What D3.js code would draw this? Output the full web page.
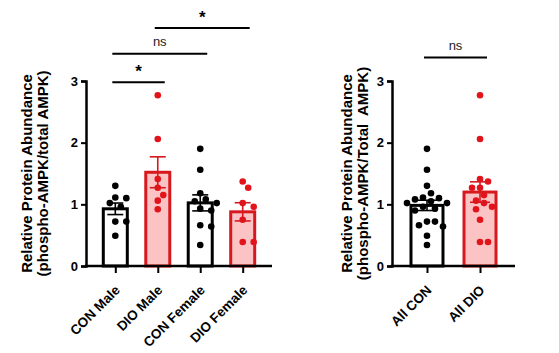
<!DOCTYPE html>
<meta charset="utf-8">
<script src="https://d3js.org/d3.v7.min.js"></script>
<style>
  body { margin: 0; background: #fff; }
  text { font-family: "Liberation Sans", Arial, sans-serif; }
</style>
<div id="chart"></div>
<script>
// group names
const groups = ["CON Male", "DIO Male", "CON Female", "DIO Female"]
const pooled = ["All CON", "All DIO"]

// individual values
const conMale = [1.30, 1.11, 1.10, 1.02, 0.96, 0.72, 0.72, 0.49]
const dioMale = [2.77, 2.06, 1.41, 1.27, 1.15, 1.06, 0.92]
const conFemale = [1.90, 1.56, 1.18, 1.08, 1.05, 1.02, 0.93, 0.90, 0.66, 0.64, 0.34]
const dioFemale = [1.37, 1.27, 1.02, 0.96, 0.75, 0.39, 0.39]
const allCon = conMale.concat(conFemale)
const allDio = dioMale.concat(dioFemale)

const yTicks = [0, 1, 2, 3]

// significance brackets: [from, to, height, label]
const leftSig = [["CON Male", "DIO Male", 2.98, "*"], ["CON Male", "CON Female", 3.44, "ns"], ["DIO Male", "DIO Female", 3.86, "*"]]
const rightSig = [["All CON", "All DIO", 3.38, "ns"]]

const width = 559, height = 353
const red = "#d7191f", redFill = "#fbc3c3"

const svg = d3.select("#chart").append("svg")
  .attr("width", width).attr("height", height)

function mean(a) { return d3.mean(a) }
function sem(a) { return d3.deviation(a) / Math.sqrt(a.length) }

// simple beeswarm offsets
function swarm(vals, y, r, step) {
  let placed = []
  let sorted = vals.map((v, i) => ({v: v, i: i})).sort((a, b) => b.v - a.v)
  sorted.forEach(d => {
    let py = y(d.v)
    let best = 0
    for (let k = 0; k < 40; k++) {
      let cands = k == 0 ? [0] : [k * step, -k * step]
      let ok = null
      for (let cx of cands) {
        if (placed.every(p => Math.hypot(p.x - cx, p.y - py) >= r * 2 + 1.2)) { ok = cx; break }
      }
      if (ok !== null) { best = ok; break }
    }
    placed.push({x: best, y: py, v: d.v})
  })
  return placed
}

function drawPanel(opt) {
  const g = svg.append("g")
  const y = d3.scaleLinear().domain([0, 3]).range([opt.y0, opt.y3])
  const x = d3.scalePoint().domain(opt.names).range([opt.x0, opt.x1]).padding(opt.pad)

  // bars
  opt.names.forEach((name, i) => {
    const vals = opt.data[i]
    const isRed = i % 2 == 1
    const col = isRed ? red : "#000"
    const m = mean(vals), s = sem(vals)
    const cx = x(name)
    g.append("rect")
      .attr("x", cx - opt.bw / 2).attr("y", y(m))
      .attr("width", opt.bw).attr("height", y(0) - y(m))
      .attr("fill", isRed ? redFill : "#fff")
      .attr("stroke", col).attr("stroke-width", 3)

    // points
    const pts = swarm(vals, y, opt.r, opt.step)
    g.selectAll(null).data(pts).enter().append("circle")
      .attr("cx", d => cx + d.x).attr("cy", d => d.y).attr("r", opt.r)
      .attr("fill", isRed ? "#e3131b" : "#000")

    // mean +/- sem
    const eb = g.append("g").attr("stroke", col).attr("stroke-width", 1.6)
    eb.append("line").attr("x1", cx).attr("x2", cx).attr("y1", y(m - s)).attr("y2", y(m + s))
    eb.append("line").attr("x1", cx - opt.cap).attr("x2", cx + opt.cap).attr("y1", y(m + s)).attr("y2", y(m + s))
    eb.append("line").attr("x1", cx - opt.cap).attr("x2", cx + opt.cap).attr("y1", y(m - s)).attr("y2", y(m - s))
    eb.append("line").attr("x1", cx - opt.cap).attr("x2", cx + opt.cap).attr("y1", y(m)).attr("y2", y(m))
  })

  // y axis
  const ya = g.append("g").attr("transform", "translate(" + opt.x0 + ",0)")
    .call(d3.axisLeft(y).tickValues(yTicks).tickFormat(d3.format("d")).tickSize(5).tickPadding(3))
  ya.select(".domain").attr("stroke-width", 2.5)
  ya.selectAll(".tick line").attr("stroke-width", 2)
  ya.selectAll("text").attr("font-size", 13).attr("font-weight", "bold").attr("fill", "#000")

  // x axis
  const xa = g.append("g").attr("transform", "translate(0," + opt.y0 + ")")
    .call(d3.axisBottom(x).tickSize(7).tickSizeOuter(0))
  xa.select(".domain").attr("stroke-width", 2.5).attr("d", "M" + (opt.x0 - 1.2) + ",0H" + opt.x1)
  xa.selectAll(".tick line").attr("stroke-width", 2)
  xa.selectAll("text")
    .attr("font-size", 13.5).attr("font-weight", "bold").attr("fill", "#000")
    .attr("text-anchor", "end")
    .attr("x", 0).attr("y", 0).attr("dy", 0)
    .attr("transform", "translate(5,25) rotate(-45)")

  // y title
  const tt = g.append("text").attr("font-size", 15).attr("font-weight", "bold")
    .attr("text-anchor", "middle").style("white-space", "pre")
    .attr("transform", "translate(" + opt.tx + "," + ((opt.y0 + opt.y3) / 2) + ") rotate(-90)")
  tt.append("tspan").attr("x", 0).attr("y", 0).text("Relative Protein Abundance")
  tt.append("tspan").attr("x", 0).attr("y", 16).text(opt.title2)

  // significance
  opt.sig.forEach(s => {
    const ly = y(s[2])
    g.append("line").attr("x1", x(s[0]) - 3).attr("x2", x(s[1]) + 7)
      .attr("y1", ly).attr("y2", ly).attr("stroke", "#000").attr("stroke-width", 2)
    const t = g.append("text").attr("x", (x(s[0]) + x(s[1])) / 2 + 2).attr("text-anchor", "middle").text(s[3])
    if (s[3] == "*") t.attr("y", ly - 5).attr("font-size", 17).attr("font-weight", "bold")
    else t.attr("y", ly - 8).attr("font-size", 13).attr("fill", "#222")
  })
}

drawPanel({names: groups, data: [conMale, dioMale, conFemale, dioFemale],
  x0: 86, x1: 272, pad: 0.69, y0: 266, y3: 81, bw: 24, r: 3.3, step: 5.5, cap: 8,
  tx: 32, title2: "(phospho-AMPK/total AMPK)", sig: leftSig})

drawPanel({names: pooled, data: [allCon, allDio],
  x0: 392, x1: 515, pad: 0.66, y0: 266, y3: 81, bw: 32, r: 3.3, step: 4, cap: 10,
  tx: 352, title2: "(phospho-AMPK/Total  AMPK)", sig: rightSig})
</script>
